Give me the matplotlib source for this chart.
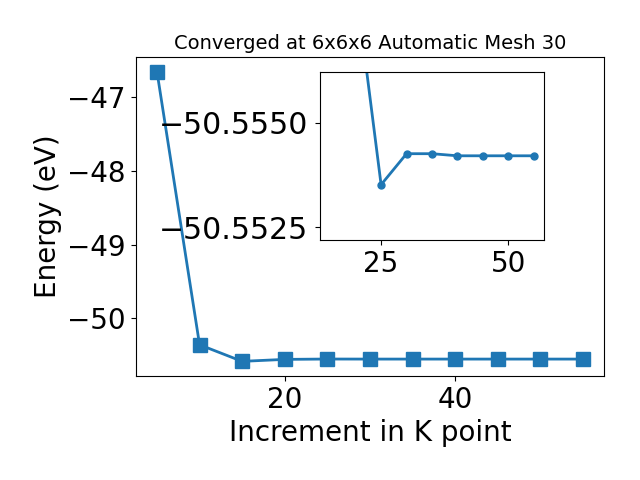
import numpy as np
import matplotlib
matplotlib.use("Agg")
import matplotlib.pyplot as plt

# k-point increments and total energies
kpoints = [5, 10, 15, 20, 25, 30, 35, 40, 45, 50, 55]
energy = [-46.65, -50.36, -50.585, -50.5583, -50.55352, -50.55426, -50.55426,
          -50.55421, -50.55421, -50.55421, -50.55421]

fig = plt.figure(figsize=(6.4, 4.8), dpi=100)
ax = fig.add_axes([0.212, 0.217, 0.732, 0.664])
ax.plot(kpoints, energy, marker='s', markersize=10, linewidth=2, color='#1f77b4')
ax.set_xlabel("Increment in K point", fontsize=20)
ax.set_ylabel("Energy (eV)", fontsize=20)
ax.set_title("Converged at 6x6x6 Automatic Mesh 30", fontsize=14)
ax.tick_params(labelsize=20)

# zoomed inset
ins = fig.add_axes([0.5, 0.5, 0.35, 0.35])
ins.plot(kpoints[2:], energy[2:], marker='o', markersize=5, linewidth=2, color='#1f77b4')
ins.set_ylim(-50.5522, -50.55621)
ins.set_yticks([-50.5550, -50.5525])
ins.ticklabel_format(axis='y', useOffset=False)
ins.set_xticks([25, 50])
ins.tick_params(axis='x', labelsize=20)
ins.tick_params(axis='y', labelsize=21.5, pad=5)

plt.savefig("out.png")
